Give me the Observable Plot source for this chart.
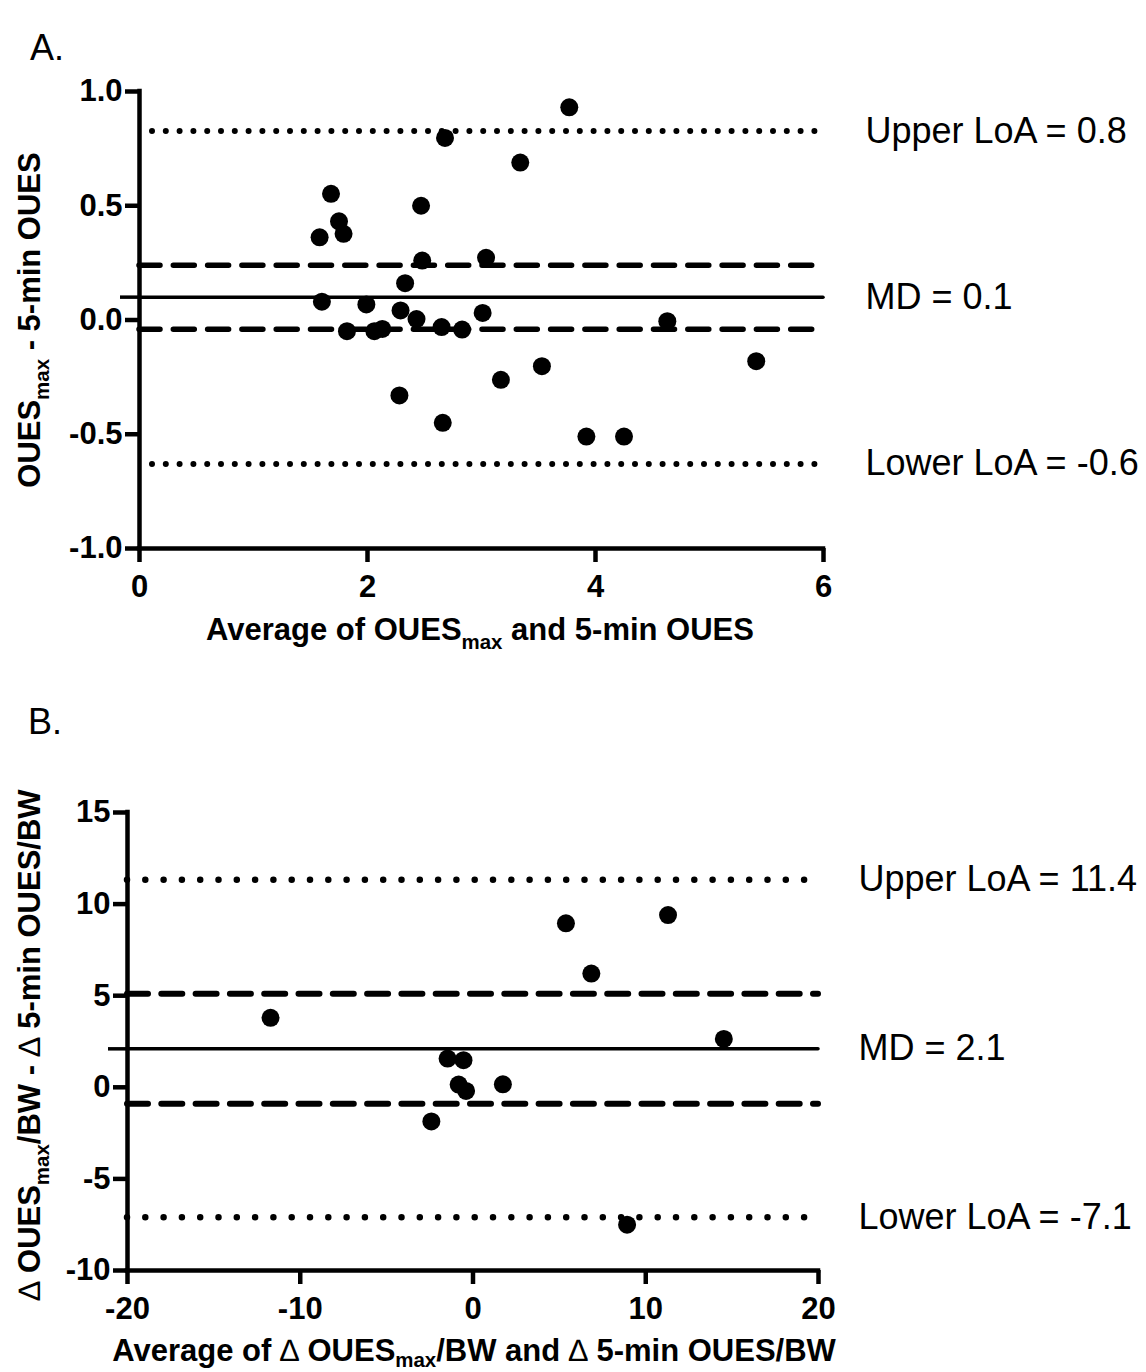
<!DOCTYPE html>
<html><head><meta charset="utf-8">
<script src="https://cdn.jsdelivr.net/npm/d3@7"></script>
<script src="https://cdn.jsdelivr.net/npm/@observablehq/plot@0.6"></script>
<style>
body{margin:0;background:#fff;}
#wrap{position:relative;width:1146px;height:1372px;overflow:hidden;}
#wrap svg{position:absolute;left:0;background:transparent;}
</style></head><body><div id="wrap"></div>
<script>
// ---------- Panel A data ----------
const aAverage = [1.58,1.60,1.68,1.75,1.79,1.82,1.99,2.06,2.13,2.28,2.29,2.33,2.43,2.47,2.48,2.65,2.66,2.68,2.83,3.01,3.04,3.17,3.34,3.53,3.77,3.92,4.25,4.63,5.41];
const aDifference = [0.362,0.08,0.552,0.432,0.377,-0.049,0.068,-0.049,-0.039,-0.33,0.042,0.161,0.004,0.50,0.26,-0.031,-0.45,0.797,-0.042,0.031,0.272,-0.262,0.689,-0.202,0.931,-0.51,-0.51,-0.005,-0.18];
const aLoA = [0.827, -0.63];        // upper, lower limits of agreement
const aCI = [0.24, -0.04];          // 95% CI of mean difference
const aMD = 0.10;
const aLabels = ["Upper LoA = 0.8", "MD = 0.1", "Lower LoA = -0.6"];
const aXTicks = [0, 2, 4, 6];
const aYTicks = [-1, -0.5, 0, 0.5, 1];

// ---------- Panel B data ----------
const bAverage = [-11.72,-2.41,-1.47,-0.83,-0.55,-0.40,1.73,5.38,6.85,8.92,11.29,14.52];
const bDifference = [3.79,-1.86,1.57,0.15,1.48,-0.20,0.16,8.95,6.21,-7.5,9.40,2.64];
const bLoA = [11.33, -7.1];
const bCI = [5.1, -0.9];
const bMD = 2.1;
const bLabels = ["Upper LoA = 11.4", "MD = 2.1", "Lower LoA = -7.1"];
const bXTicks = [-20, -10, 0, 10, 20];
const bYTicks = [-10, -5, 0, 5, 10, 15];

const FONT = '"Liberation Sans", Arial, Helvetica, sans-serif';
const wrap = document.getElementById("wrap");

function richText(svg, parts, {x, y, size, weight = "bold", rotate = 0, anchor = "middle", subShift = 0.3}) {
  const g = d3.select(svg).append("g")
    .attr("transform", `translate(${x},${y}) rotate(${rotate})`);
  const t = g.append("text")
    .attr("text-anchor", anchor)
    .attr("font-family", FONT)
    .attr("font-size", size)
    .attr("font-weight", weight)
    .attr("fill", "black");
  let shifted = 0;
  for (const p of parts) {
    const s = t.append("tspan").text(p.t);
    const target = p.sub ? size * subShift : 0;
    if (target !== shifted) { s.attr("dy", target - shifted); shifted = target; }
    if (p.sub) s.attr("font-size", size * 0.66);
    if (p.w) s.attr("font-weight", p.w);
  }
}

function panel({xs, ys, loa, ci, md, labels, xTicks, yTicks, xDomain, yDomain, yFmt,
                marginLeft, marginRight, marginTop, marginBottom, height,
                dotGap, dotW, dashArr, dashW, labelDx, dotOffset}) {
  const pts = xs.map((x, i) => ({x, y: ys[i]}));
  const lineVals = [loa[0], md, loa[1]];
  return Plot.plot({
    width: 1146, height, marginLeft, marginRight, marginTop, marginBottom,
    x: {domain: xDomain}, y: {domain: yDomain},
    style: {fontFamily: FONT, background: "transparent", overflow: "visible"},
    marks: [
      Plot.ruleY(loa, {x1: xDomain[0], x2: xDomain[1], stroke: "black", strokeWidth: dotW,
        strokeDasharray: `0 ${dotGap}`, strokeLinecap: "round", strokeDashoffset: dotOffset}),
      Plot.ruleY(ci, {x1: xDomain[0], x2: xDomain[1], stroke: "black", strokeWidth: dashW,
        strokeDasharray: dashArr, strokeLinecap: "round"}),
      Plot.ruleY([md], {x1: xDomain[0], x2: xDomain[1], stroke: "black", strokeWidth: 3.5, strokeLinecap: "round"}),
      Plot.dot(pts, {x: "x", y: "y", r: 9, fill: "black", stroke: "none"}),
      Plot.text(labels, {x: xDomain[1], y: (d, i) => lineVals[i], text: d => d, dx: labelDx,
        textAnchor: "start", lineAnchor: "middle", fontSize: 36, fill: "black", fontWeight: "normal"}),
      Plot.ruleX([xDomain[0]], {y1: yDomain[0], y2: yDomain[1], stroke: "black", strokeWidth: 4.5, strokeLinecap: "square"}),
      Plot.ruleY([yDomain[0]], {x1: xDomain[0], x2: xDomain[1], stroke: "black", strokeWidth: 4.5, strokeLinecap: "square"}),
      Plot.axisY(yTicks, {anchor: "left", tickSize: 14, tickPadding: 3, strokeWidth: 4.5,
        fontSize: 31, fontWeight: "bold", label: null, tickFormat: yFmt}),
      Plot.axisY([md], {anchor: "left", tickSize: 19, strokeWidth: 3.5, tickFormat: () => "", label: null}),
      Plot.axisX(xTicks, {anchor: "bottom", tickSize: 14, tickPadding: 12, strokeWidth: 4.5,
        fontSize: 31, fontWeight: "bold", label: null, tickFormat: d => String(d)})
    ]
  });
}

// Panel A
const svgA = panel({
  xs: aAverage, ys: aDifference, loa: aLoA, ci: aCI, md: aMD, labels: aLabels,
  xTicks: aXTicks, yTicks: aYTicks, xDomain: [0, 6], yDomain: [-1, 1], yFmt: d => d.toFixed(1),
  marginLeft: 139, marginRight: 323, marginTop: 91, marginBottom: 132, height: 680,
  dotGap: 13.8, dotW: 6, dashArr: "21 13.3", dashW: 5.5, labelDx: 42, dotOffset: -13
});
svgA.style.top = "0px";
wrap.appendChild(svgA);

// Panel B
const svgB = panel({
  xs: bAverage, ys: bDifference, loa: bLoA, ci: bCI, md: bMD, labels: bLabels,
  xTicks: bXTicks, yTicks: bYTicks, xDomain: [-20, 20], yDomain: [-10, 15], yFmt: d => String(d),
  marginLeft: 127, marginRight: 328, marginTop: 132, marginBottom: 102, height: 692,
  dotGap: 18.3, dotW: 6.5, dashArr: "21 13.3", dashW: 6, labelDx: 40, dotOffset: 0
});
svgB.style.top = "680px";
wrap.appendChild(svgB);

// Panel letters
richText(svgA, [{t: "A."}], {x: 30, y: 60, size: 36, weight: "normal", anchor: "start"});
richText(svgB, [{t: "B."}], {x: 28, y: 734 - 680, size: 36, weight: "normal", anchor: "start"});

// Axis titles A
richText(svgA, [{t: "Average of OUES"}, {t: "max", sub: true}, {t: " and 5-min OUES"}],
  {x: 480, y: 640, size: 31});
richText(svgA, [{t: "OUES"}, {t: "max", sub: true}, {t: " - 5-min OUES"}],
  {x: 40, y: 320, size: 31, rotate: -90});

// Axis titles B
richText(svgB, [{t: "Average of "}, {t: "∆", w: "normal"}, {t: " OUES"}, {t: "max", sub: true}, {t: "/BW and "}, {t: "∆", w: "normal"}, {t: " 5-min OUES/BW"}],
  {x: 474, y: 1361 - 680, size: 31, subShift: 0.2});
richText(svgB, [{t: "∆", w: "normal"}, {t: " OUES"}, {t: "max", sub: true}, {t: "/BW - "}, {t: "∆", w: "normal"}, {t: " 5-min OUES/BW"}],
  {x: 40, y: 1045 - 680, size: 31, rotate: -90});
</script></body></html>
